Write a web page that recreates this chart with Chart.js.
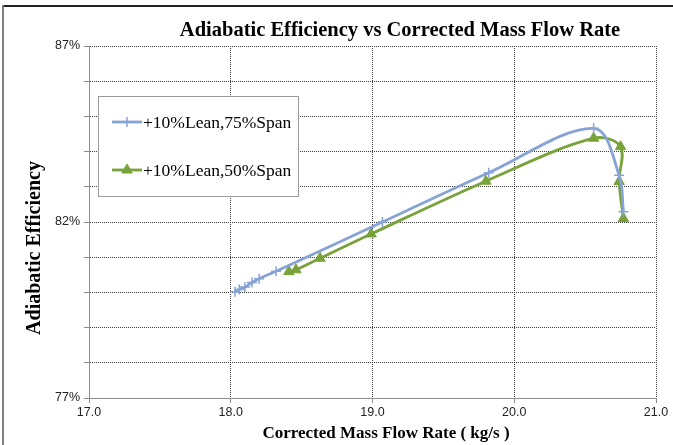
<!DOCTYPE html>
<html>
<head>
<meta charset="utf-8">
<script src="https://cdn.jsdelivr.net/npm/chart.js@4"></script>
<style>
  body { margin: 0; background: #fff; }
  #wrap { width: 673px; height: 445px; position: relative; }
</style>
</head>
<body>
<div id="wrap"><canvas id="effChart"></canvas></div>
<script>
// mass flow (kg/s) and adiabatic efficiency (%) for each blade setting
const span75Flow = [18.03, 18.06, 18.10, 18.15, 18.20, 18.32, 19.07, 19.82, 20.56, 20.74, 20.77];
const span75Eff  = [80.02, 80.08, 80.15, 80.28, 80.39, 80.60, 82.00, 83.40, 84.66, 83.33, 82.29];
const span50Flow = [18.41, 18.46, 18.63, 18.99, 19.80, 20.56, 20.75, 20.74, 20.77];
const span50Eff  = [80.59, 80.64, 80.97, 81.66, 83.16, 84.38, 84.14, 83.15, 82.10];

const seriesNames = ['+10%Lean,75%Span', '+10%Lean,50%Span'];
const flowTicks = [17, 18, 19, 20, 21];
const effLabelTicks = [77, 82, 87];

const BLUE = '#87a3d6';
const GREEN = '#78a23a';
const SERIF = '"Liberation Serif", "Times New Roman", serif';

function toPoints(xs, ys) {
    return xs.map((x, i) => ({ x: x, y: ys[i] }));
}

// frame, title, axis titles and the boxed legend
const decor = {
    id: 'decor',
    beforeDraw(chart) {
        const ctx = chart.ctx;
        ctx.save();
        ctx.fillStyle = '#fff';
        ctx.fillRect(0, 0, chart.width, chart.height);
        ctx.fillStyle = '#222';
        ctx.fillRect(3, 5, chart.width - 3, 2);
        ctx.fillStyle = '#808080';
        ctx.fillRect(2, 5, 2, chart.height - 5);
        ctx.restore();
    },
    afterDatasetsDraw(chart) {
        const ctx = chart.ctx;
        ctx.save();

        // legend
        ctx.fillStyle = '#fff';
        ctx.fillRect(98, 96, 201, 101);
        ctx.strokeStyle = '#9a9a9a';
        ctx.lineWidth = 1;
        ctx.strokeRect(98.5, 96.5, 200, 100);
        const rows = [122, 170];
        chart.data.datasets.forEach((ds, i) => {
            const y = rows[i];
            ctx.strokeStyle = ds.borderColor;
            ctx.lineWidth = ds.borderWidth;
            ctx.beginPath();
            ctx.moveTo(112, y);
            ctx.lineTo(142, y);
            ctx.stroke();
            ctx.fillStyle = ds.pointBackgroundColor;
            ctx.strokeStyle = ds.pointBorderColor;
            ctx.lineWidth = ds.pointBorderWidth;
            Chart.helpers.drawPoint(ctx, { pointStyle: ds.pointStyle, radius: ds.pointRadius, borderWidth: ds.pointBorderWidth }, 127, y);
            ctx.fillStyle = '#000';
            ctx.font = '17.5px ' + SERIF;
            ctx.textAlign = 'left';
            ctx.textBaseline = 'middle';
            ctx.fillText(ds.label, 143, y + 1);
        });

        // titles
        ctx.fillStyle = '#000';
        ctx.textAlign = 'center';
        ctx.textBaseline = 'middle';
        ctx.font = 'bold 20.5px ' + SERIF;
        ctx.fillText('Adiabatic Efficiency vs Corrected Mass Flow Rate', 400, 31);
        ctx.font = 'bold 17px ' + SERIF;
        ctx.fillText('Corrected Mass Flow Rate ( kg/s )', 386, 434);
        ctx.translate(35, 248);
        ctx.rotate(-Math.PI / 2);
        ctx.font = 'bold 20px ' + SERIF;
        ctx.fillText('Adiabatic Efficiency', 0, 0);
        ctx.restore();
    }
};

const gridStyle = {
    color: '#3c3c3c',
    lineWidth: 1,
    tickColor: '#8c8c8c',
    tickLength: 5,
    tickBorderDash: []
};

const tickFont = { family: '"Liberation Sans", Arial, sans-serif', size: 12.5 };

new Chart(document.getElementById('effChart'), {
    type: 'scatter',
    data: {
        datasets: [{
            label: seriesNames[0],
            data: toPoints(span75Flow, span75Eff),
            showLine: true,
            borderColor: BLUE,
            borderWidth: 2.8,
            tension: 0.35,
            pointStyle: 'cross',
            pointRadius: 5,
            pointBorderWidth: 1.5,
            pointBackgroundColor: BLUE,
            pointBorderColor: BLUE
        }, {
            label: seriesNames[1],
            data: toPoints(span50Flow, span50Eff),
            showLine: true,
            borderColor: GREEN,
            borderWidth: 2.8,
            tension: 0.35,
            pointStyle: 'triangle',
            pointRadius: 6,
            pointBorderWidth: 1,
            pointBackgroundColor: GREEN,
            pointBorderColor: GREEN
        }]
    },
    options: {
        responsive: true,
        maintainAspectRatio: false,
        animation: false,
        layout: { padding: { top: 46, right: 17, bottom: 0, left: 0 } },
        plugins: {
            legend: { display: false },
            tooltip: { enabled: false }
        },
        scales: {
            x: {
                type: 'linear',
                min: 17,
                max: 21,
                afterBuildTicks: s => { s.ticks = flowTicks.map(v => ({ value: v })); },
                afterFit: s => { s.height = 47; },
                ticks: {
                    color: '#222',
                    padding: 2,
                    font: tickFont,
                    callback: v => v.toFixed(1)
                },
                grid: gridStyle,
                border: { color: '#8c8c8c', width: 1, dash: [1, 1] }
            },
            y: {
                min: 77,
                max: 87,
                afterFit: s => { s.width = 89; },
                ticks: {
                    stepSize: 1,
                    color: '#222',
                    padding: 4,
                    font: tickFont,
                    callback: v => effLabelTicks.includes(v) ? v + '%' : ''
                },
                grid: gridStyle,
                border: { color: '#8c8c8c', width: 1, dash: [1, 1] }
            }
        }
    },
    plugins: [decor]
});
</script>
</body>
</html>
